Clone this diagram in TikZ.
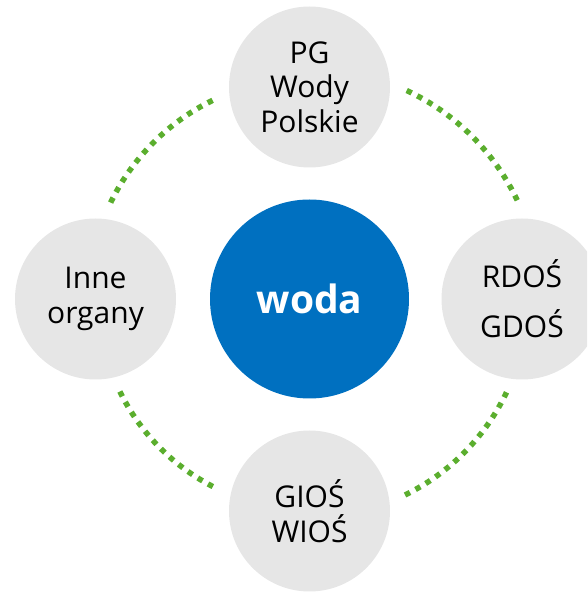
\documentclass[tikz,border=0pt]{standalone}
\usepackage{fontspec}
\setmainfont{Open Sans}
\definecolor{lightgrey}{HTML}{E6E6E6}
\definecolor{hubblue}{HTML}{0070C0}
\definecolor{linkgreen}{HTML}{5BAE2E}
\begin{document}
\begin{tikzpicture}[x=1pt,y=1pt,
 satellite/.style={circle, fill=lightgrey, minimum size=161pt, inner sep=0pt, align=center, font=\fontsize{30}{34.5}\selectfont, text=black},
 hub/.style={circle, fill=hubblue, minimum size=199pt, inner sep=0pt, text=white, font=\fontsize{39}{46}\selectfont\bfseries},
 link/.style={draw=linkgreen, line width=5.5pt, dash pattern=on 5.5pt off 6.3pt}]
\useasboundingbox (0,0) rectangle (587,592);
\clip (0,0) rectangle (587,592);
\node[hub] (hub) at (309.5,293) {woda};
\node[satellite] (ntop) at (309.5,505) {PG\\Wody\\Polskie};
\node[satellite] (nleft) at (95.5,293) {Inne\\organy};
\node[satellite, font=\fontsize{30}{50}\selectfont] (nright) at (522,293) {RDOŚ\\GDOŚ};
\node[satellite] (nbottom) at (309.5,81) {GIOŚ\\WIOŚ};
\draw[link] ([shift={(65:230)}]hub.center) arc[start angle=65, end angle=25, radius=230];
\draw[link] ([shift={(116:221)}]hub.center) arc[start angle=116, end angle=155, radius=221];
\draw[link] ([shift={(206:211)}]hub.center) arc[start angle=206, end angle=244, radius=211];
\draw[link] ([shift={(296:218)}]hub.center) arc[start angle=296, end angle=335, radius=218];
\end{tikzpicture}
\end{document}
